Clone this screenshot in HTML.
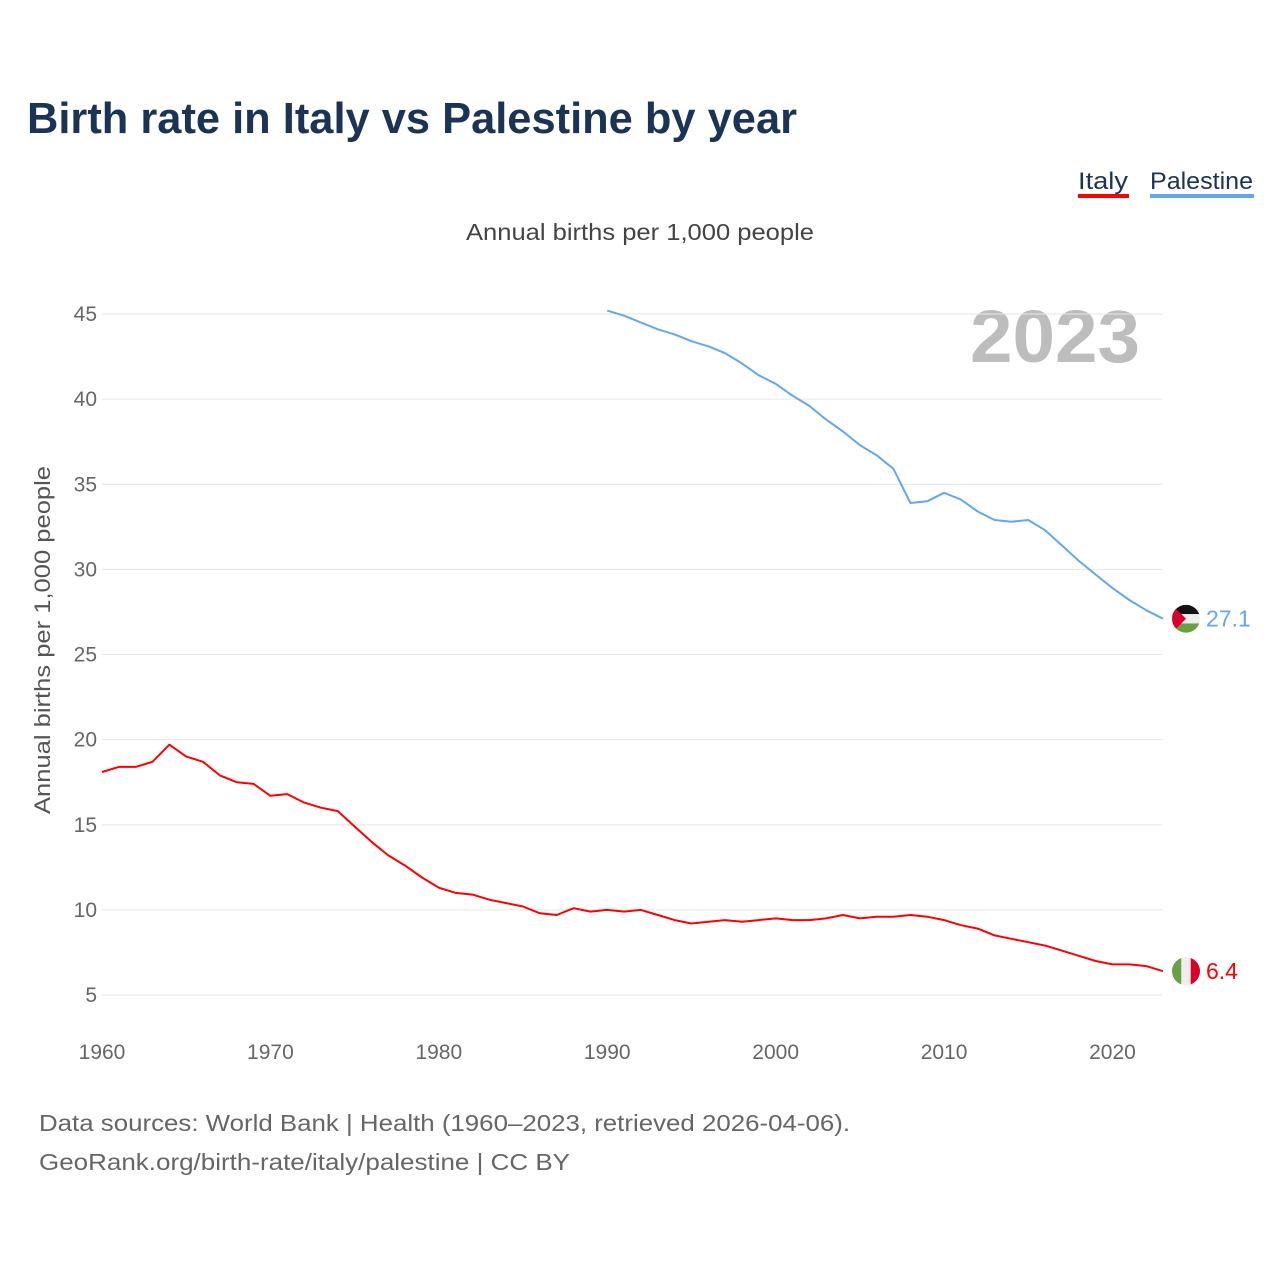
<!DOCTYPE html>
<html><head><meta charset="utf-8"><style>
html,body{margin:0;padding:0;background:#fff;}
svg{display:block;font-family:"Liberation Sans",sans-serif;}
</style></head><body>
<svg id="chart" width="1280" height="1280" viewBox="0 0 1280 1280">
<text x="27" y="133" font-size="44" font-weight="bold" fill="#1b3455" textLength="770" lengthAdjust="spacingAndGlyphs">Birth rate in Italy vs Palestine by year</text>
<g>
<text x="1078" y="189" font-size="24" fill="#1b3455" textLength="50" lengthAdjust="spacingAndGlyphs">Italy</text>
<rect x="1078" y="194" width="51" height="4" fill="#ff0000"/>
<text x="1150" y="189" font-size="24" fill="#1b3455" textLength="103" lengthAdjust="spacingAndGlyphs">Palestine</text>
<rect x="1150" y="194" width="104" height="4" fill="#62a8ea"/>
</g>
<text x="640" y="240" font-size="23" fill="#444" text-anchor="middle" textLength="348" lengthAdjust="spacingAndGlyphs">Annual births per 1,000 people</text>
<text x="1140" y="362" font-size="74" font-weight="bold" fill="#bdbdbd" text-anchor="end" textLength="170" lengthAdjust="spacingAndGlyphs">2023</text>
<text transform="translate(50,640) rotate(-90)" font-size="22" fill="#555" text-anchor="middle" textLength="348" lengthAdjust="spacingAndGlyphs">Annual births per 1,000 people</text>
<g id="grid"></g><g id="series"></g><g id="ends"></g>
<text x="39" y="1131" font-size="23" fill="#666" textLength="811" lengthAdjust="spacingAndGlyphs">Data sources: World Bank | Health (1960–2023, retrieved 2026-04-06).</text>
<text x="39" y="1170" font-size="23" fill="#666" textLength="531" lengthAdjust="spacingAndGlyphs">GeoRank.org/birth-rate/italy/palestine | CC BY</text>
</svg>
<script>
const yTicks=[5,10,15,20,25,30,35,40,45];
const xTicks=[1960,1970,1980,1990,2000,2010,2020];
const italyStart=1960;
const italyValues=[18.1,18.4,18.4,18.7,19.7,19.0,18.7,17.9,17.5,17.4,16.7,16.8,16.3,16.0,15.8,14.9,14.0,13.2,12.6,11.9,11.3,11.0,10.9,10.6,10.4,10.2,9.8,9.7,10.1,9.9,10.0,9.9,10.0,9.7,9.4,9.2,9.3,9.4,9.3,9.4,9.5,9.4,9.4,9.5,9.7,9.5,9.6,9.6,9.7,9.6,9.4,9.1,8.9,8.5,8.3,8.1,7.9,7.6,7.3,7.0,6.8,6.8,6.7,6.4];
const palStart=1990;
const palValues=[45.2,44.9,44.5,44.1,43.8,43.4,43.1,42.7,42.1,41.4,40.9,40.2,39.6,38.8,38.1,37.3,36.7,35.9,33.9,34.0,34.5,34.1,33.4,32.9,32.8,32.9,32.3,31.4,30.5,29.7,28.9,28.2,27.6,27.1];
const NS="http://www.w3.org/2000/svg";
const X=y=>102+(y-1960)*(1163-102)/63;
const Y=v=>995-(v-5)*(995-314)/40;
function mk(t,a,p){const e=document.createElementNS(NS,t);for(const k in a)e.setAttribute(k,a[k]);p.appendChild(e);return e;}
const grid=document.getElementById('grid');
yTicks.forEach(v=>{
 const l=mk('line',{x1:102,x2:1162,y1:Y(v),y2:Y(v),stroke:'#e6e6e6','stroke-width':1},grid);
 
 
 const t=mk('text',{x:97,y:Y(v)+7,'font-size':21,fill:'#666','text-anchor':'end'},grid);
 t.textContent=v;
 
 
});
xTicks.forEach(v=>{
 const t=mk('text',{x:X(v),y:1059,'font-size':21,fill:'#666','text-anchor':'middle'},grid);
 t.textContent=v;
 
 
});
const ser=document.getElementById('series');
function line(start,vals,color,name){
 const d=vals.map((v,i)=>(i?'L':'M')+X(start+i).toFixed(1)+','+Y(v).toFixed(1)).join('');
 const p=mk('path',{d:d,fill:'none',stroke:color,'stroke-width':2,'stroke-linejoin':'round'},ser);
 
 
}
line(italyStart,italyValues,'#ff0000','italy-line');
line(palStart,palValues,'#62a8ea','palestine-line');
const ends=document.getElementById('ends');
const cx=1186;
// Palestine flag
const pv=palValues[palValues.length-1], py=Y(pv);
const g1=mk('g',{},ends);


mk('clipPath',{id:'cp1'},g1).appendChild(document.createElementNS(NS,'circle')).setAttribute('r',14);
document.querySelector('#cp1 circle').setAttribute('cx',cx);document.querySelector('#cp1 circle').setAttribute('cy',py);
const gc1=mk('g',{'clip-path':'url(#cp1)'},g1);
mk('rect',{x:cx-14,y:py-14,width:28,height:10,fill:'#111'},gc1);
mk('rect',{x:cx-14,y:py-4.7,width:28,height:9.4,fill:'#eee'},gc1);
mk('rect',{x:cx-14,y:py+4.7,width:28,height:10,fill:'#6a9f45'},gc1);
mk('polygon',{points:`${cx-14},${py-14} ${cx},${py} ${cx-14},${py+14}`,fill:'#d7002b'},gc1);
const t1=mk('text',{x:1206,y:py+8,'font-size':23,fill:'#62a8ea'},ends);
t1.textContent=pv.toFixed(1);


// Italy flag
const iv=italyValues[italyValues.length-1], iy=Y(iv);
const g2=mk('g',{},ends);


const cp2=mk('clipPath',{id:'cp2'},g2);mk('circle',{cx:cx,cy:iy,r:14},cp2);
const gc2=mk('g',{'clip-path':'url(#cp2)'},g2);
mk('rect',{x:cx-14,y:iy-14,width:9.4,height:28,fill:'#6a9f45'},gc2);
mk('rect',{x:cx-4.7,y:iy-14,width:9.4,height:28,fill:'#eee'},gc2);
mk('rect',{x:cx+4.7,y:iy-14,width:10,height:28,fill:'#d7002b'},gc2);
const t2=mk('text',{x:1206,y:iy+8,'font-size':23,fill:'#ff0000'},ends);
t2.textContent=iv.toFixed(1);


</script>
</body></html>
